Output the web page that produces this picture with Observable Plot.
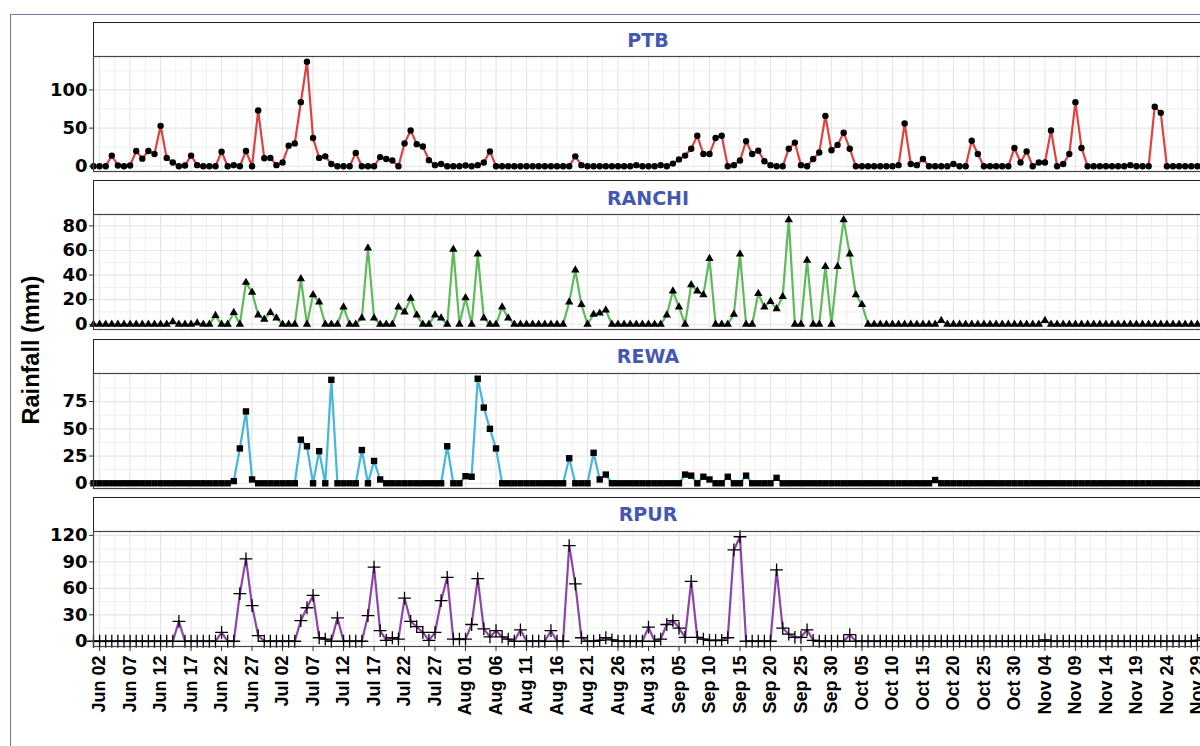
<!DOCTYPE html>
<html>
<head>
<meta charset="utf-8">
<script src="https://cdn.jsdelivr.net/npm/d3@7"></script>
<script src="https://cdn.jsdelivr.net/npm/@observablehq/plot@0.6"></script>
<style>
html, body { margin: 0; padding: 0; overflow: hidden; background: #fff; width: 1200px; height: 746px; }
#outer { position: absolute; left: 10px; top: 14px; width: 1400px; height: 900px; border-left: 1px solid #6d7ba3; border-top: 1px solid #6d7ba3; }
#chart { position: absolute; left: 0; top: 0; width: 1210px; height: 746px; }
.strip { position: absolute; left: 93px; width: 1110px; height: 35px; box-sizing: border-box; border: 1px solid #222; background: #fff;
  display: flex; align-items: center; justify-content: center; font: bold 19px "DejaVu Sans", sans-serif; color: #4458B2; }
.facet { position: absolute; left: 0; }
.ytitle { position: absolute; left: 31px; top: 350px; transform: translate(-50%, -50%) rotate(-90deg); white-space: nowrap;
  font: bold 23.5px "Liberation Sans", Arial, sans-serif; color: #000; }
g[aria-label="y-axis tick label"] text { font-family: "DejaVu Sans", sans-serif; font-weight: bold; font-size: 18px; fill: #000; }
g[aria-label="x-axis tick label"] text { font-family: "Liberation Sans", Arial, sans-serif; font-weight: bold; font-size: 18px; fill: #000; }
</style>
</head>
<body>
<div id="outer"></div>
<div id="chart"></div>
<script>
// ---- data ----
const stations = ["PTB", "RANCHI", "REWA", "RPUR"];
const startDay = "Jun 01 2021"; // first observation; one value per day
const xTickLabels = ["Jun 02","Jun 07","Jun 12","Jun 17","Jun 22","Jun 27","Jul 02","Jul 07","Jul 12","Jul 17","Jul 22","Jul 27",
  "Aug 01","Aug 06","Aug 11","Aug 16","Aug 21","Aug 26","Aug 31","Sep 05","Sep 10","Sep 15","Sep 20","Sep 25","Sep 30",
  "Oct 05","Oct 10","Oct 15","Oct 20","Oct 25","Oct 30","Nov 04","Nov 09","Nov 14","Nov 19","Nov 24","Nov 29"];
const yTicks = [[0, 50, 100], [0, 20, 40, 60, 80], [0, 25, 50, 75], [0, 30, 60, 90, 120]];

const ptb = [
  0,0,0,14,1,0,1,20,10,20,
  16,53,11,5,0,1,14,1.5,0,0,
  0,19,0,1.5,0,20,0,73,10.5,11,
  1.5,5,27,30,84,137,37,11,13,3,
  0,0,0,17.5,0,0,0,12,9.5,7.5,
  0,30,47,29,26,8,1.5,3,0,0,
  0,1,0,1.5,5,19.5,0,0,0,0,
  0,0,0,0,0,0,0,0,0,13,
  1.5,0,0,0,0,0,0,0,0,1.5,
  0,0,0,1.5,0,3.5,9,14,23,40,
  16,16,37,40,0,1.5,7.5,33,16,20.5,
  6.5,1.5,0,0,23,31,1.5,0,9.5,18,
  66,21,28,44,23,0,0,0,0,0,
  0,0,1.5,56,3,1.5,9.5,0,0,0,
  0,3,0,0,33.5,16,0,0,0,0,
  0,24,5,19.5,0,5,5,47,0,3,
  16,84,24,0,0,0,0,0,0,0,
  1.5,0,0,0,78,70,0,0,0,0,
  0,0,0];
const ranchi = [
  0,0,0,0,0,0,0,0,0,0,
  0,0,0,2,0,0,0,1,0,0,
  7,0,0,9.5,0,34,26,7.5,4,9.5,
  5,0,0,0,37,0,24,18,0,0,
  0,14,0,0,5,62,5,0,0,0,
  14,10,21,7.5,0,0,7.5,5,0,61,
  0,21.5,0,57,5,0,0,14,5,0,
  0,0,0,0,0,0,0,0,18,44,
  16,0,8,9,11.5,0,0,0,0,0,
  0,0,0,0,7.5,27,14,0,32,27,
  24,53.5,0,0,0,8,57,0,0,25,
  14,18.5,12.5,22.5,85,0,0,52,0,0,
  47,0,47,85,57,24,16,0,0,0,
  0,0,0,0,0,0,0,0,0,3,
  0,0,0,0,0,0,0,0,0,0,
  0,0,0,0,0,0,3,0,0,0,
  0,0,0,0,0,0,0,0,0,0,
  0,0,0,0,0,0,0,0,0,0,
  0,0,0];
const rewa = [
  0,0,0,0,0,0,0,0,0,0,
  0,0,0,0,0,0,0,0,0,0,
  0,0,0,2,32,66,3.5,0,0,0,
  0,0,0,0,40,34,0,29.5,0,95,
  0,0,0,0,30.5,0,20.5,3.5,0,0,
  0,0,0,0,0,0,0,0,34,0,
  0,6.5,6,96,69.5,50,32,0,0,0,
  0,0,0,0,0,0,0,0,23,0,
  0,0,28,3.5,8,0,0,0,0,0,
  0,0,0,0,0,0,0,8,7,0,
  6,3.5,0,0,6,0,0,7,0,0,
  0,0,5,0,0,0,0,0,0,0,
  0,0,0,0,0,0,0,0,0,0,
  0,0,0,0,0,0,0,0,3,0,
  0,0,0,0,0,0,0,0,0,0,
  0,0,0,0,0,0,0,0,0,0,
  0,0,0,0,0,0,0,0,0,0,
  0,0,0,0,0,0,0,0,0,0,
  0,0,0];
const rpur = [
  0,0,0,0,0,0,0,0,0,0,
  0,0,0,0,22.5,0,0,0,0,0,
  0,10,0,0,54,93.5,40.5,6.5,0,0,
  0,0,0,0,23.5,38,52,4,2.5,0,
  26.5,0,0,0,0,29,84,12,1,4,
  2.5,49,22.5,16.5,10,1,10,46,72.5,2.5,
  2.5,2.5,19,71,14,5,12,5,2.5,0,
  13,0,0,0,0,12,0,0,108.5,65,
  4,0,0,1,4,1.5,0,0,0,0,
  0,16,0,2.5,19,23.5,15,4.5,68,4.5,
  2.5,1,1,1,4,103.5,118.5,0,0,0,
  0,0,81,15,8,4.5,4.5,13,1,0,
  0,0,0,0,7.5,0,0,0,0,0,
  0,0,0,0,0,0,0,0,0,0,
  0,0,0,0,0,0,0,0,0,0,
  0,0,0,0,0,0,1.5,0,0,0,
  0,0,0,0,0,0,0,0,0,0,
  0,0,0,0,0,0,0,0,0,0,
  0,1,4];
const series = [ptb, ranchi, rewa, rpur];

// ---- styling ----
const lineColors = ["#E2403F", "#5DBB5B", "#45B6DE", "#8E45A8"];
const symbols = ["circle", "triangle", "square", "plus"];
const symbolR = [3.2, 3.1, 3.6, 4.2];

const parse = d3.utcParse("%b %d %Y");
const start = parse(startDay);
const tickDates = xTickLabels.map(s => parse(s + " 2021"));
const fmt = d3.utcFormat("%b %d");

const chart = document.getElementById("chart");
const panelTop0 = 56, stride = 158.3, panelH = 115, stripH = 35;

series.forEach((vals, k) => {
  const data = vals.map((v, i) => ({date: d3.utcDay.offset(start, i), value: v}));
  const x0 = data[0].date, x1 = data[data.length - 1].date;
  const max = d3.max(vals);
  const lo = -0.05 * max, hi = 1.05 * max;
  const yt = yTicks[k];
  const step = yt[1] - yt[0];
  const minorY = [];
  for (let i = 0; i < yt.length; i++) { const m = yt[i] + step / 2; if (m < hi) minorY.push(m); }
  const minorX = tickDates.map(t => new Date(+t + 2.5 * 864e5)).filter(d => d <= x1);
  const last = k === series.length - 1;
  const mt = 12, mb = last ? 100 : 4;
  const panelTop = panelTop0 + k * stride;

  const strip = document.createElement("div");
  strip.className = "strip";
  strip.style.top = (panelTop - stripH + 1) + "px";
  strip.textContent = stations[k];
  chart.appendChild(strip);

  const marks = [
    Plot.ruleX(minorX, {stroke: "#efefef", strokeWidth: 1}),
    Plot.ruleX(tickDates, {stroke: "#e6e6e6", strokeWidth: 1.2}),
    Plot.ruleY(minorY, {stroke: "#efefef", strokeWidth: 1}),
    Plot.ruleY(yt, {stroke: "#e6e6e6", strokeWidth: 1.2}),
    Plot.line(data, {x: "date", y: "value", stroke: lineColors[k], strokeWidth: 2.2}),
    symbols[k] === "plus"
      ? Plot.dot(data, {x: "date", y: "value", symbol: "plus", stroke: "#000", strokeWidth: 1.3, r: symbolR[k]})
      : Plot.dot(data, {x: "date", y: "value", symbol: symbols[k], fill: "#000", stroke: "none", r: symbolR[k]}),
    Plot.frame({stroke: "#444", strokeWidth: 1.2}),
    Plot.axisY({ticks: yt, tickSize: 4, tickPadding: 2, label: null, stroke: "#333"})
  ];
  if (last) marks.push(Plot.axisX({ticks: tickDates, tickFormat: fmt, tickRotate: -90, tickSize: 5, tickPadding: 4, label: null, stroke: "#333"}));

  const svg = Plot.plot({
    width: 1210, height: mt + panelH + mb,
    marginLeft: 93, marginRight: 7, marginTop: mt, marginBottom: mb,
    style: {background: "transparent", overflow: "visible"},
    x: {type: "utc", domain: [x0, x1], axis: last ? undefined : null},
    y: {domain: [lo, hi]},
    marks
  });
  const holder = document.createElement("div");
  holder.className = "facet";
  holder.style.top = (panelTop - mt) + "px";
  holder.appendChild(svg);
  chart.appendChild(holder);
});

const yt = document.createElement("div");
yt.className = "ytitle";
yt.textContent = "Rainfall (mm)";
chart.appendChild(yt);
</script>
</body>
</html>
